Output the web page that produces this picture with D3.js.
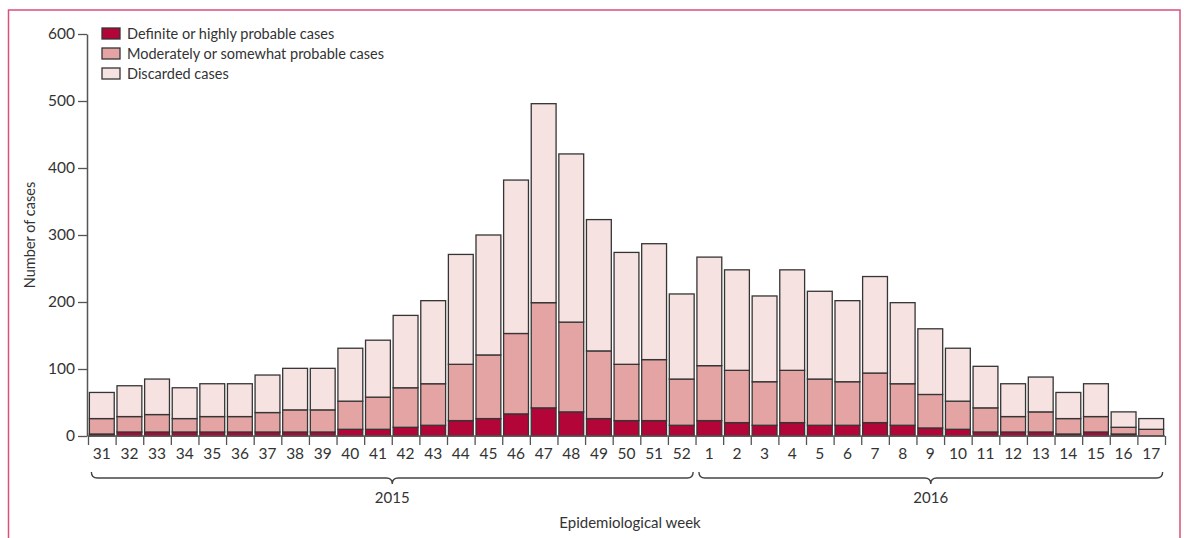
<!DOCTYPE html>
<html>
<head>
<meta charset="utf-8">
<script src="https://cdn.jsdelivr.net/npm/d3@7"></script>
<style>
  body { margin: 0; background: #fff; }
  svg text { font-family: Lato, "Open Sans", sans-serif; fill: #333; }
</style>
</head>
<body>
<div id="vis1"></div>
<script>
const FRAME_WIDTH = 1184;
const FRAME_HEIGHT = 538;

// epidemiological weeks, 2015 wk 31 to 2016 wk 17
const WEEKS_2015 = [31,32,33,34,35,36,37,38,39,40,41,42,43,44,45,46,47,48,49,50,51,52];
const WEEKS_2016 = [1,2,3,4,5,6,7,8,9,10,11,12,13,14,15,16,17];
const WEEKS = WEEKS_2015.concat(WEEKS_2016);

// counts per week for each category
const DEFINITE  = [3,6,6,6,6,6,6,6,6, 10,10,13,16,23,26,33,42,36,26,23,23,16,
                   23,20,16,20,16,16,20,16,12,10,6,6,6,3,6,3,0];
const MODERATE  = [23,23,26,20,23,23,29,33,33, 42,48,59,62,84,95,120,157,134,101,84,91,69,
                   82,78,65,78,69,65,74,62,50,42,36,23,30,23,23,10,10];
const DISCARDED = [39,46,53,46,49,49,56,62,62, 79,85,108,124,164,179,229,297,251,196,167,173,127,
                   162,150,128,150,131,121,144,121,98,79,62,49,52,39,49,23,16];

const SERIES = ['Definite or highly probable cases', 'Moderately or somewhat probable cases', 'Discarded cases'];
const COLORS = ['#b30537', '#e3a4a3', '#f6e2e1'];
const Y_TICKS = [0,100,200,300,400,500,600];

const PLOT = {left: 88, right: 1165, top: 34, bottom: 436};

const FRAME1 = d3.select('#vis1')
  .append('svg')
    .attr('width', FRAME_WIDTH)
    .attr('height', FRAME_HEIGHT);

// pink frame
FRAME1.append('path')
  .attr('d', 'M8.5,' + FRAME_HEIGHT + ' L8.5,10 L1180,10 L1180,' + FRAME_HEIGHT)
  .attr('fill', 'none')
  .attr('stroke', '#d9507a')
  .attr('stroke-width', 1.5);

const rows = WEEKS.map((w, i) => ({week: String(w), def: DEFINITE[i], mod: MODERATE[i], dis: DISCARDED[i]}));

const X_SCALE = d3.scaleBand()
  .domain(rows.map(d => d.week))
  .range([PLOT.left, PLOT.right])
  .paddingInner(0.1)
  .paddingOuter(0.05);

const Y_SCALE = d3.scaleLinear()
  .domain([0, 600])
  .range([PLOT.bottom, PLOT.top]);

const stack = d3.stack().keys(['def', 'mod', 'dis']);
const layers = stack(rows);

FRAME1.append('g').selectAll('g')
  .data(layers)
  .enter()
  .append('g')
    .attr('fill', (d, i) => COLORS[i])
  .selectAll('rect')
  .data(d => d)
  .enter()
  .append('rect')
    .attr('x', d => X_SCALE(d.data.week))
    .attr('y', d => Y_SCALE(d[1]))
    .attr('width', X_SCALE.bandwidth())
    .attr('height', d => Y_SCALE(d[0]) - Y_SCALE(d[1]))
    .attr('stroke', '#353535')
    .attr('stroke-width', 1.3);

// y axis
const yAxis = FRAME1.append('g')
  .attr('transform', 'translate(' + (PLOT.left - 1) + ',0)')
  .call(d3.axisLeft(Y_SCALE).tickValues(Y_TICKS).tickSize(9).tickSizeOuter(0).tickPadding(3));
yAxis.select('.domain').attr('stroke', '#555').attr('stroke-width', 1.5);
yAxis.selectAll('.tick line').attr('stroke', '#555').attr('stroke-width', 1.3);
yAxis.selectAll('.tick text').attr('font-size', '15.5px').attr('fill', '#333');

// x axis: band labels
const xAxis = FRAME1.append('g')
  .attr('transform', 'translate(0,' + PLOT.bottom + ')')
  .call(d3.axisBottom(X_SCALE).tickSize(0).tickPadding(12).tickSizeOuter(0));
xAxis.select('.domain').attr('stroke', '#555').attr('stroke-width', 1.5)
  .attr('d', 'M' + (X_SCALE.range()[0]) + ',0H' + X_SCALE.range()[1]);
xAxis.selectAll('.tick text').attr('font-size', '15.5px').attr('fill', '#333');

// x axis: boundary ticks between bands
const step = X_SCALE.step();
const B_SCALE = d3.scaleLinear()
  .domain([0, WEEKS.length])
  .range([X_SCALE(rows[0].week) - step * X_SCALE.paddingInner() / 2,
          X_SCALE(rows[0].week) - step * X_SCALE.paddingInner() / 2 + step * WEEKS.length]);
const bAxis = FRAME1.append('g')
  .attr('transform', 'translate(0,' + PLOT.bottom + ')')
  .call(d3.axisBottom(B_SCALE).tickValues(d3.range(WEEKS.length + 1)).tickFormat('').tickSize(9).tickSizeOuter(0));
bAxis.select('.domain').remove();
bAxis.selectAll('.tick line').attr('stroke', '#555').attr('stroke-width', 1.3);

// year braces
function brace(x0, x1, y) {
  const xm = (x0 + x1) / 2, r = 6;
  return 'M' + x0 + ',' + (y - r) +
    ' Q' + x0 + ',' + y + ' ' + (x0 + r) + ',' + y +
    ' L' + (xm - r) + ',' + y +
    ' Q' + xm + ',' + y + ' ' + xm + ',' + (y + r) +
    ' Q' + xm + ',' + y + ' ' + (xm + r) + ',' + y +
    ' L' + (x1 - r) + ',' + y +
    ' Q' + x1 + ',' + y + ' ' + x1 + ',' + (y - r);
}
const YEARS = [
  {label: '2015', first: '31', last: '52'},
  {label: '2016', first: '1', last: '17'}
];
YEARS.forEach(yr => {
  const x0 = X_SCALE(yr.first) + 2;
  const x1 = X_SCALE(yr.last) + X_SCALE.bandwidth() - 1;
  FRAME1.append('path')
    .attr('d', brace(x0, x1, 478))
    .attr('fill', 'none')
    .attr('stroke', '#444')
    .attr('stroke-width', 1.4);
  FRAME1.append('text')
    .attr('x', (x0 + x1) / 2)
    .attr('y', 503)
    .attr('text-anchor', 'middle')
    .attr('font-size', '15px')
    .text(yr.label);
});

FRAME1.append('text')
  .attr('x', 630)
  .attr('y', 528)
  .attr('text-anchor', 'middle')
  .attr('font-size', '15px')
  .text('Epidemiological week');

FRAME1.append('text')
  .attr('transform', 'translate(35,235) rotate(-90)')
  .attr('text-anchor', 'middle')
  .attr('font-size', '14.5px')
  .text('Number of cases');

// legend
const legend = FRAME1.append('g').attr('transform', 'translate(102,28)');
SERIES.forEach((s, i) => {
  legend.append('rect')
    .attr('x', 0)
    .attr('y', i * 20)
    .attr('width', 18)
    .attr('height', 11)
    .attr('fill', COLORS[i])
    .attr('stroke', '#353535')
    .attr('stroke-width', 1.3);
  legend.append('text')
    .attr('x', 25)
    .attr('y', i * 20 + 10.5)
    .attr('font-size', '14.5px')
    .text(s);
});
</script>
</body>
</html>
